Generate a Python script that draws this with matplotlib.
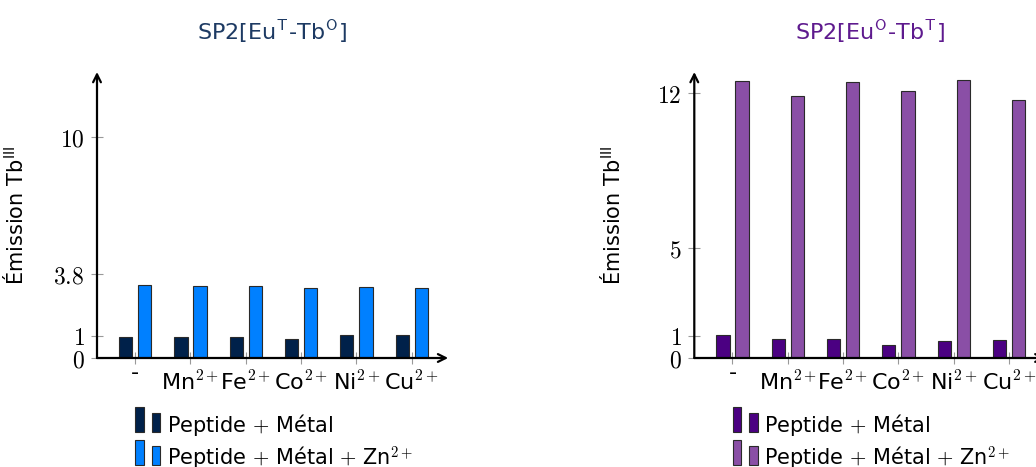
import matplotlib
matplotlib.use("Agg")
import matplotlib.pyplot as plt
import numpy as np
from matplotlib.patches import Rectangle
from matplotlib.transforms import ScaledTranslation

plt.rcParams['font.family'] = ['DejaVu Sans']
plt.rcParams['mathtext.fontset'] = 'cm'

categories = ["-", "Mn$^{2+}$", "Fe$^{2+}$", "Co$^{2+}$", "Ni$^{2+}$", "Cu$^{2+}$"]
series_names = ["Peptide $+$ Métal", "Peptide $+$ Métal $+$ Zn$^{2+}$"]

left_metal = [0.97, 0.94, 0.97, 0.88, 1.03, 1.04]
left_metal_zn = [3.30, 3.25, 3.25, 3.19, 3.22, 3.19]
right_metal = [1.06, 0.85, 0.88, 0.58, 0.77, 0.83]
right_metal_zn = [12.55, 11.85, 12.52, 12.12, 12.61, 11.68]

left_yticks = [0, 1, 3.8, 10]
right_yticks = [0, 1, 5, 12]

W, H = 1036, 467
fig = plt.figure(figsize=(W / 100, H / 100), dpi=100)


def fx(x):
    return x / W


def fy(y):
    return 1 - y / H


FS = 15

panels = [
    dict(x0=97, title="SP2[Eu$^{\\mathsf{T}}$-Tb$^{\\mathsf{O}}$]", tcolor="#1d3a63",
         vals=(left_metal, left_metal_zn), colors=("#00214a", "#0080ff"),
         yticks=left_yticks, title_x=272),
    dict(x0=694.3, title="SP2[Eu$^{\\mathsf{O}}$-Tb$^{\\mathsf{T}}$]", tcolor="#5e1a8e",
         vals=(right_metal, right_metal_zn), colors=("#4b0082", "#8a4fa6"),
         yticks=right_yticks, title_x=870),
]

unit = 55.3
xmin, xmax = -0.69, 5.66
ax_w = (xmax - xmin) * unit
y0_px, ytop_px = 358, 72
ymax = (y0_px - ytop_px) / 22.07

for p in panels:
    ax = fig.add_axes([fx(p["x0"]), fy(y0_px), ax_w / W, (y0_px - ytop_px) / H])
    ax.set_xlim(xmin, xmax)
    ax.set_ylim(0, ymax)
    x = np.arange(len(categories))
    bw = 0.24
    off = 0.172
    ax.bar(x - off, p["vals"][0], bw, color=p["colors"][0], edgecolor="#2a2a2a", linewidth=0.8, zorder=3)
    ax.bar(x + off, p["vals"][1], bw, color=p["colors"][1], edgecolor="#2a2a2a", linewidth=0.8, zorder=3)
    for s in ax.spines.values():
        s.set_visible(False)
    ax.annotate("", xy=(1.0, 0), xytext=(0, 0), xycoords="axes fraction",
                arrowprops=dict(arrowstyle="->", lw=1.6, color="black", mutation_scale=14,
                                shrinkA=0, shrinkB=0), annotation_clip=False, zorder=5)
    ax.annotate("", xy=(0, 1.0), xytext=(0, 0), xycoords="axes fraction",
                arrowprops=dict(arrowstyle="->", lw=1.6, color="black", mutation_scale=14,
                                shrinkA=0, shrinkB=0), annotation_clip=False, zorder=5)
    ax.set_xticks(x)
    ax.set_xticklabels(categories, fontsize=16)
    ax.set_yticks(p["yticks"])
    ax.set_yticklabels(["$%s$" % (("%g" % v)) for v in p["yticks"]], fontsize=17)
    ax.tick_params(axis="both", direction="inout", length=8, width=0.8, color="#999999")
    ax.tick_params(axis="x", pad=5)
    ax.tick_params(axis="y", pad=5)
    lbl = ax.get_xticklabels()[0]
    lbl.set_transform(lbl.get_transform() + ScaledTranslation(0, 7 / 100, fig.dpi_scale_trans))
    ax.set_ylabel("Émission Tb$^{\\mathsf{III}}$", fontsize=FS)
    ax.yaxis.set_label_coords(-0.2, 0.5)
    fig.text(fx(p["title_x"]), fy(32), p["title"], color=p["tcolor"], fontsize=16,
             ha="center", va="center")

    # legend (drawn manually, cropped at bottom like the reference)
    lx = p["x0"] + 38.3
    for i, (name, col) in enumerate(zip(series_names, p["colors"])):
        dy = i * 33.3
        for (xa, xb, ya) in [(lx, lx + 8.7, 407 + dy), (lx + 16.4, lx + 25, 413 + dy)]:
            yb = 431.7 + dy
            fig.patches.append(Rectangle((fx(xa), fy(yb)), (xb - xa) / W, (yb - ya) / H,
                                         transform=fig.transFigure, facecolor=col,
                                         edgecolor="#2a2a2a", linewidth=0.8))
        fig.text(fx(lx + 31.4), fy(431.7 + dy), name, fontsize=FS, ha="left", va="baseline")

fig.savefig("out.png", dpi=100)
